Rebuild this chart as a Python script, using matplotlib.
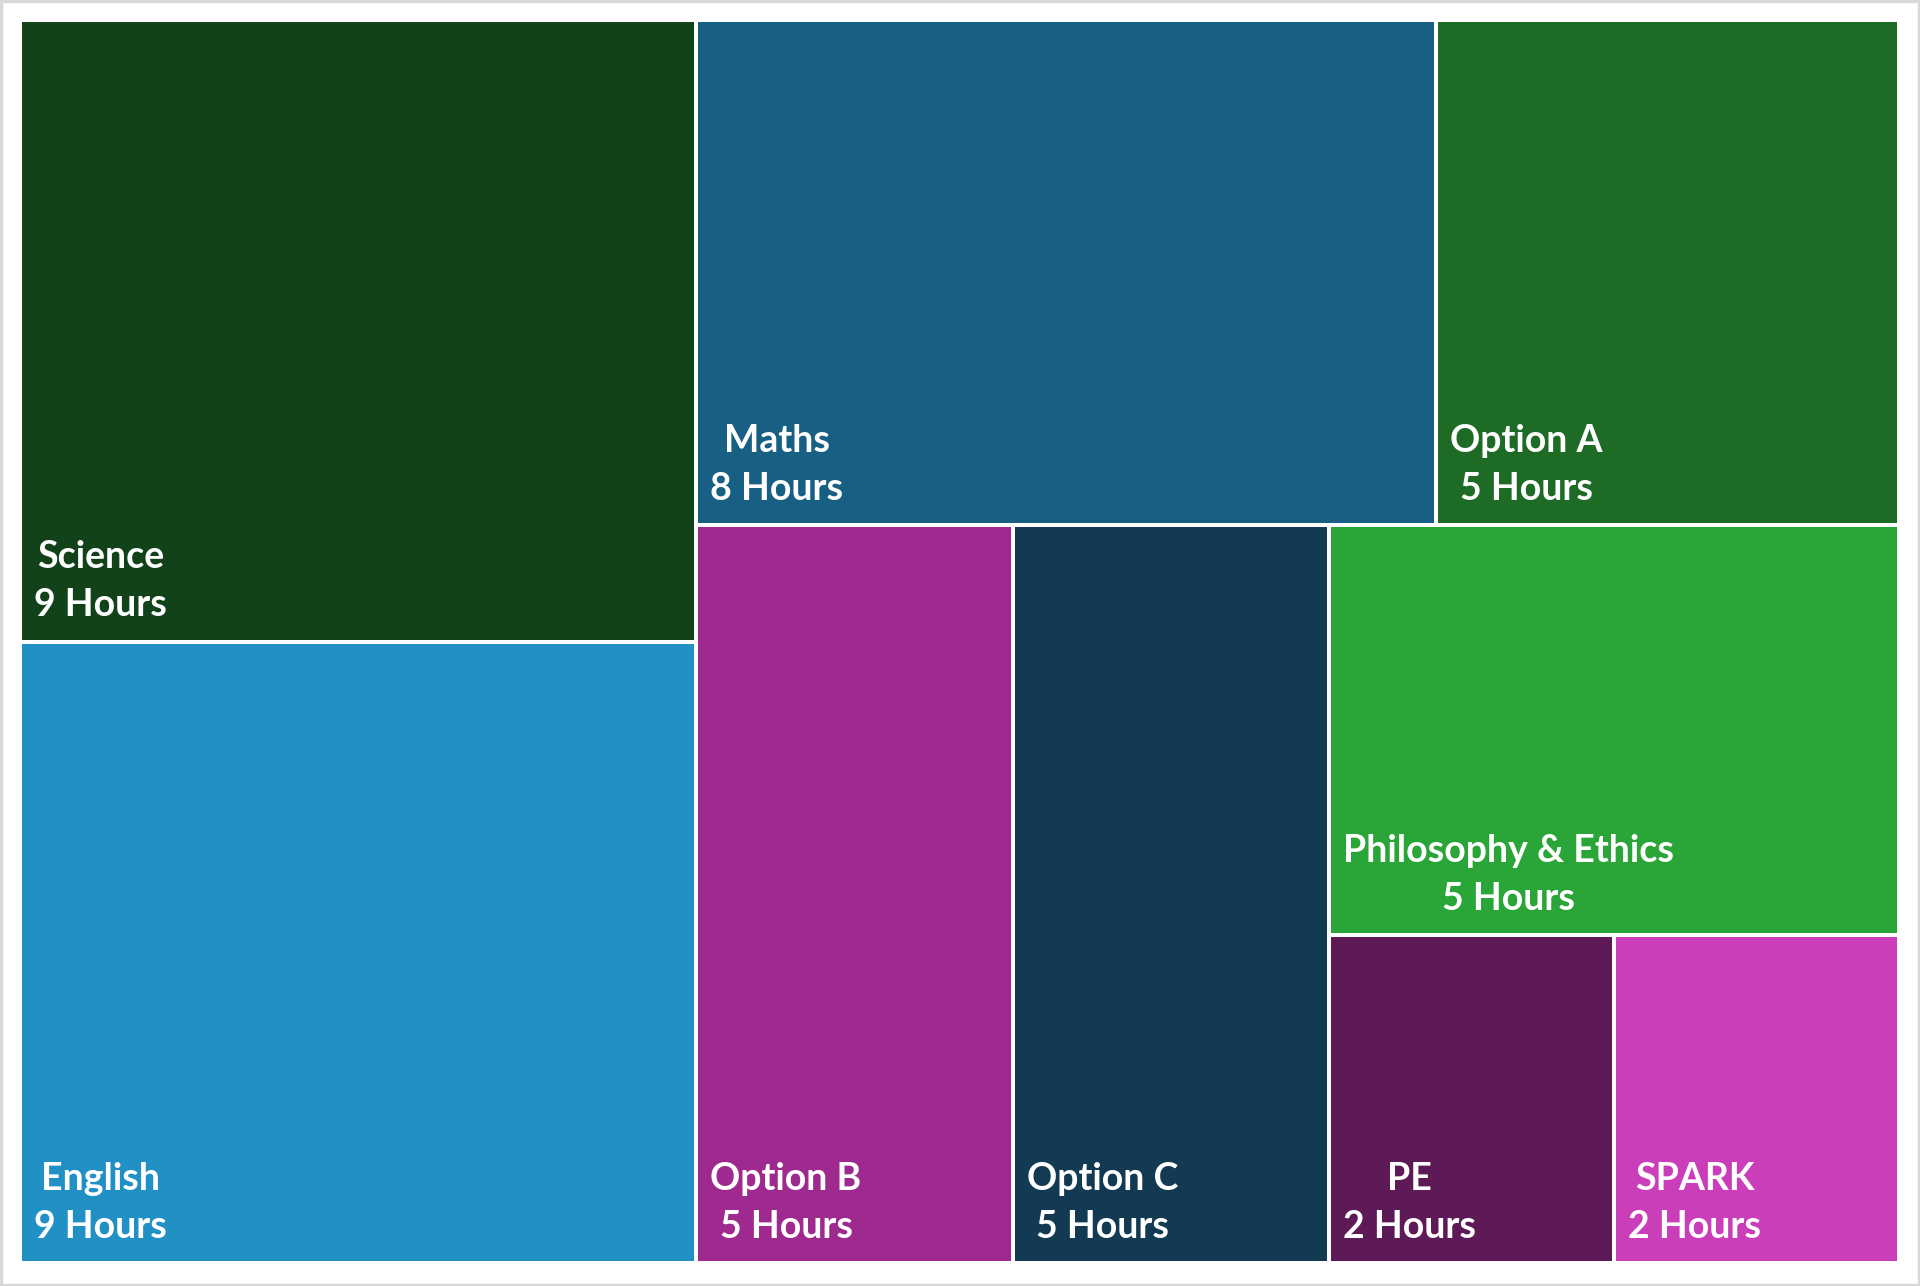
import matplotlib
matplotlib.use("Agg")
import matplotlib.pyplot as plt
from matplotlib.patches import Rectangle

# ---- data ----
subjects = ["Science", "English", "Maths", "Option A", "Option B",
            "Option C", "Philosophy & Ethics", "PE", "SPARK"]
hours = [9, 9, 8, 5, 5, 5, 5, 2, 2]
colors = ["#12421A", "#2190C4", "#176083", "#1D6B24", "#9F2A8F",
          "#123A52", "#2AA638", "#5E1A56", "#CB3EBA"]

# slice-and-dice structure (h = side by side, v = stacked), leaves are indices
tree = ("h", [("v", [0, 1]),
              ("v", [("h", [2, 3]),
                     ("h", [4, 5, ("v", [6, ("h", [7, 8])])])])])

W, H = 1920, 1286
fig = plt.figure(figsize=(W / 100, H / 100), dpi=100)
ax = fig.add_axes([0, 0, 1, 1])
ax.set_xlim(0, W)
ax.set_ylim(H, 0)
ax.axis("off")

def total(node):
    if isinstance(node, int):
        return hours[node]
    return sum(total(c) for c in node[1])

rects = {}
def place(node, x, y, w, h):
    if isinstance(node, int):
        rects[node] = (x, y, w, h)
        return
    kind, children = node
    t = total(node)
    pos = 0.0
    for c in children:
        f = total(c) / t
        if kind == "h":
            place(c, x + pos * w, y, f * w, h)
        else:
            place(c, x, y + pos * h, w, f * h)
        pos += f

x0, y0, x1, y1 = 20, 20, 1899, 1263
place(tree, x0, y0, x1 - x0, y1 - y0)

gap = 4
for i, (x, y, w, h) in rects.items():
    ax.add_patch(Rectangle((x + gap / 2, y + gap / 2), w - gap, h - gap,
                           facecolor=colors[i], edgecolor="none"))
    ax.text(x + gap / 2 + 12, y + h - gap / 2 - 17,
            f"{subjects[i]}\n{hours[i]} Hours",
            ha="left", va="bottom", multialignment="center",
            color="white", fontsize=27, fontweight="bold",
            family=["Lato", "DejaVu Sans"], linespacing=1.5)

# outer light border
ax.add_patch(Rectangle((1, 1), W - 2, H - 2, facecolor="none",
                       edgecolor="#D9D9D9", linewidth=2.5))

fig.savefig("out.png", dpi=100, facecolor="white")
